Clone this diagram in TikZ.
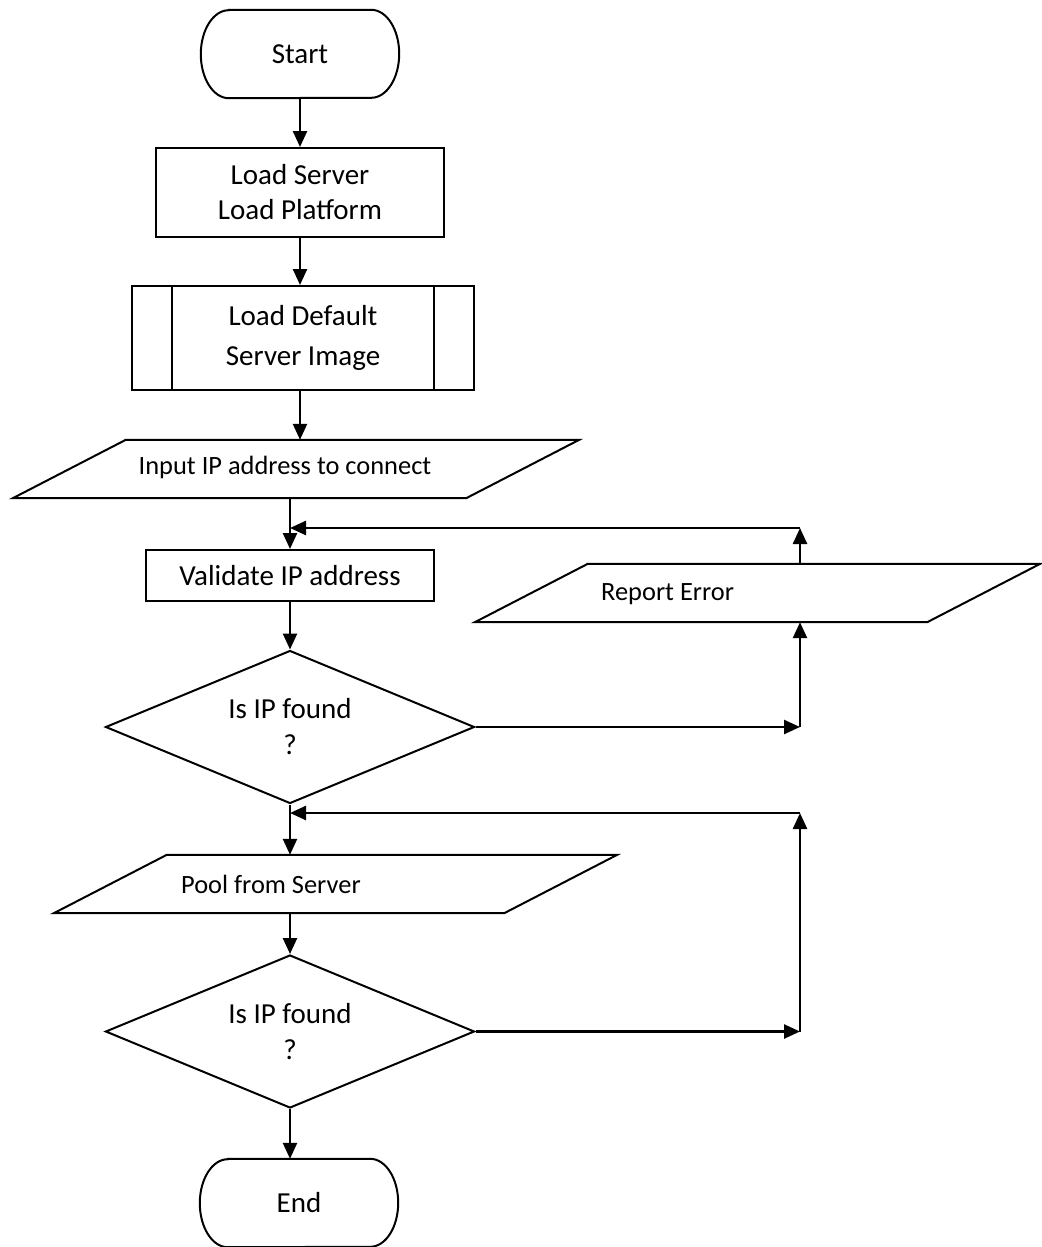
\documentclass[tikz,border=0pt]{standalone}
\usepackage{fontspec}
\setmainfont{Carlito}
\usetikzlibrary{arrows.meta,shapes.geometric,calc}
\newcommand\bigtxt{\fontsize{29}{35}\selectfont}
\newcommand\bigtxtw{\fontsize{29}{40}\selectfont}
\newcommand\dectxt{\fontsize{29}{36}\selectfont}
\newcommand\smalltxt{\fontsize{26.4}{32}\selectfont}
\begin{document}
\begin{tikzpicture}[x=1pt,y=-1pt,
  outl/.style={draw, line width=2pt, line join=miter},
  box/.style={outl, rectangle, inner sep=0pt, align=center, font=\bigtxt},
  ghost/.style={rectangle, inner sep=0pt},
  dec/.style={outl, diamond, inner sep=0pt, aspect=2.41, align=center, font=\dectxt,
    minimum width=369pt, minimum height=153pt},
  conn/.style={line width=2.5pt, -{Triangle[length=16pt,width=14pt]}},
  lbl/.style={inner sep=0pt, font=\smalltxt},
]
\useasboundingbox (0,0) rectangle (1041,1247);

% Start terminal
\node[ghost, minimum width=198pt, minimum height=88pt, font=\bigtxt] (start) at (300,54) {Start};
\draw[outl] ([xshift=28pt]start.north west) -- ([xshift=-28pt]start.north east)
  arc[start angle=-90, end angle=90, x radius=28, y radius=44]
  -- ([xshift=28pt]start.south west)
  arc[start angle=90, end angle=270, x radius=28, y radius=44] -- cycle;

% Load Server / Load Platform
\node[box, minimum width=288pt, minimum height=89pt] (ls) at (300,192.5) {Load Server\\Load Platform};

% Predefined process
\node[box, font=\bigtxtw, minimum width=342pt, minimum height=104pt] (ld) at (303,338) {Load Default\\Server Image};
\draw[outl] ([xshift=41pt]ld.north west) -- ([xshift=41pt]ld.south west);
\draw[outl] ([xshift=-41pt]ld.north east) -- ([xshift=-41pt]ld.south east);

% Input parallelogram
\node[ghost, minimum width=566pt, minimum height=58pt] (inp) at (296,469) {};
\draw[outl] ([xshift=113pt]inp.north west) -- (inp.north east)
  -- ([xshift=-113pt]inp.south east) -- (inp.south west) -- cycle;
\node[lbl] (inptxt) at (285,467) {Input IP address to connect};

% Validate
\node[box, minimum width=288pt, minimum height=51pt] (val) at (290,575.5) {Validate IP address};

% Report Error parallelogram
\node[ghost, minimum width=565pt, minimum height=58pt] (rep) at (757.5,593) {};
\draw[outl] ([xshift=113pt]rep.north west) -- (rep.north east)
  -- ([xshift=-113pt]rep.south east) -- (rep.south west) -- cycle;
\node[lbl, anchor=west] (reptxt) at (601,594) {Report Error};

% Decision 1
\node[dec] (d1) at (290,727) {Is IP found\\?};

% Pool from Server parallelogram
\node[ghost, minimum width=563pt, minimum height=58pt] (pool) at (335.5,884) {};
\draw[outl] ([xshift=113pt]pool.north west) -- (pool.north east)
  -- ([xshift=-113pt]pool.south east) -- (pool.south west) -- cycle;
\node[lbl, anchor=west] (pooltxt) at (181,884) {Pool from Server};

% Decision 2
\node[dec] (d2) at (290,1031.5) {Is IP found\\?};

% End terminal
\node[ghost, minimum width=198pt, minimum height=88pt, font=\bigtxt] (stop) at (299,1203) {End};
\draw[outl] ([xshift=28pt]stop.north west) -- ([xshift=-28pt]stop.north east)
  arc[start angle=-90, end angle=90, x radius=28, y radius=44]
  -- ([xshift=28pt]stop.south west)
  arc[start angle=90, end angle=270, x radius=28, y radius=44] -- cycle;

% corner coordinates on the right
\coordinate (c1) at (800,528);
\coordinate (c3) at (800,813);

% connectors
\draw[conn] (start.south) -- (ls.north);
\draw[conn] (ls.south) -- (ls.south |- ld.north);
\draw[conn] (ls.south |- ld.south) -- (ls.south |- inp.north);
\draw[conn] (val.north |- inp.south) -- (val.north);
\draw[conn] (c1 |- rep.north) -- (c1);
\draw[conn] (c1) -- (c1 -| val.north);
\draw[conn] (val.south) -- (d1.north);
\draw[conn] (d1.east) -- (d1.east -| c1);
\draw[conn] (d1.east -| c1) -- (c1 |- rep.south);
\draw[conn] (d1.south) -- (d1.south |- pool.north);
\draw[conn] (c3) -- (c3 -| d1.south);
\draw[conn] (d1.south |- pool.south) -- (d2.north);
\draw[conn] (d2.east) -- (d2.east -| c3);
\draw[conn] (d2.east -| c3) -- (c3);
\draw[conn] (d2.south) -- (d2.south |- stop.north);
\end{tikzpicture}
\end{document}
